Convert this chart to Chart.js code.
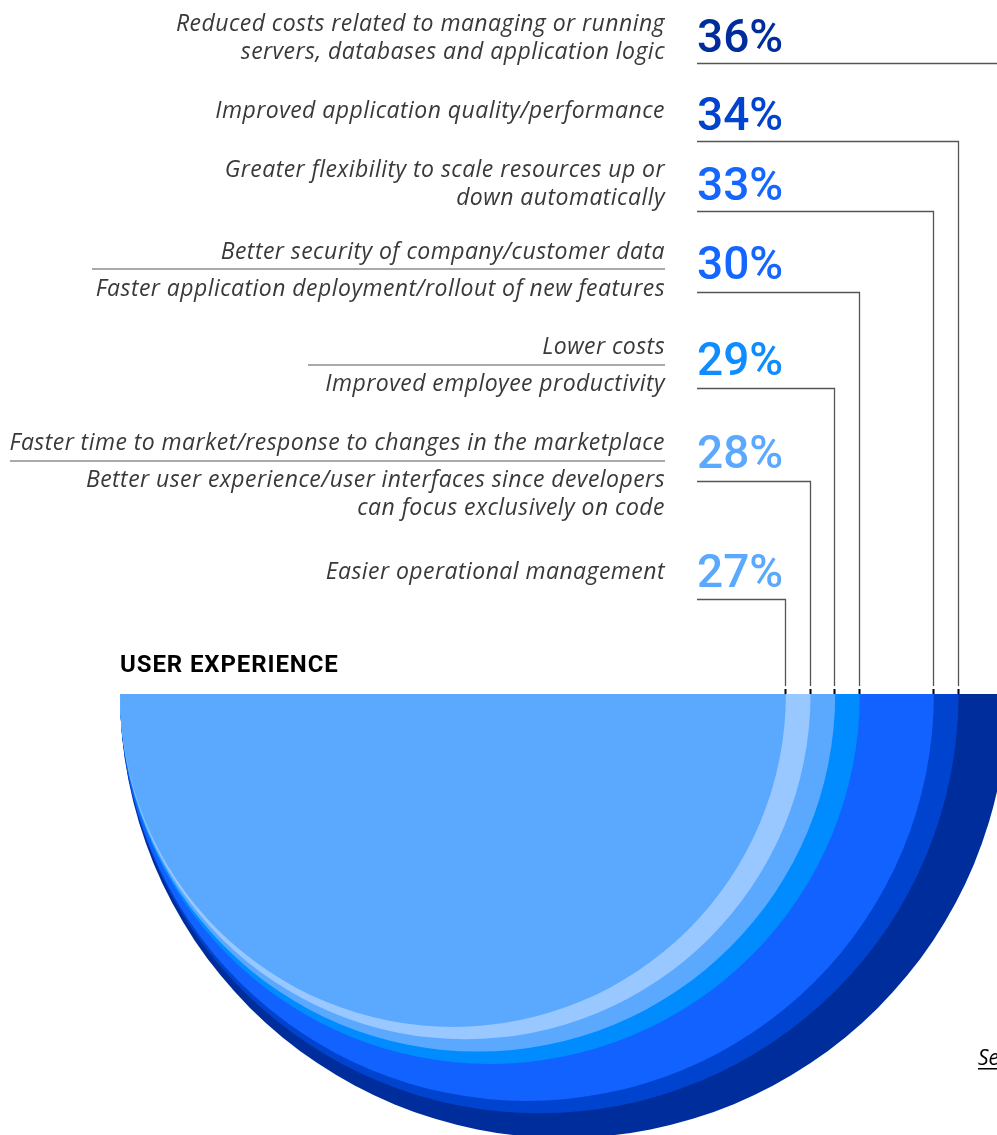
<!DOCTYPE html>
<html>
<head>
<meta charset="utf-8">
<script src="https://cdn.jsdelivr.net/npm/chart.js@4.4.1/dist/chart.umd.min.js"></script>
<style>
  html, body { margin: 0; padding: 0; background: #fff; }
  #wrap { position: relative; width: 997px; height: 1135px; overflow: hidden; }
</style>
</head>
<body>
<div id="wrap"><canvas id="chart" width="997" height="1135"></canvas></div>
<script>
// --- Data ---
const categories = [
    'Reduced costs related to managing or running\nservers, databases and application logic',
    'Improved application quality/performance',
    'Greater flexibility to scale resources up or\ndown automatically',
    'Better security of company/customer data',
    'Faster application deployment/rollout of new features',
    'Lower costs',
    'Improved employee productivity',
    'Faster time to market/response to changes in the marketplace',
    'Better user experience/user interfaces since developers\ncan focus exclusively on code',
    'Easier operational management'
];
const categoryValues = [36, 34, 33, 30, 30, 29, 29, 28, 28, 27];

// one semicircle per distinct share, largest drawn first
const circleValues = [36, 34, 33, 30, 29, 28, 27];
const circleColors = ['#002d9c', '#0043ce', '#1162ff', '#008bff', '#5aa9ff', '#99c7ff', '#5aa9ff'];
const pctColors = ['#002d9c', '#0043ce', '#1466ff', '#1466ff', '#0f8cff', '#5aa9ff', '#5aa9ff'];

const sectionTitle = 'USER EXPERIENCE';
const footLink = 'See more';

// --- Layout (pixels) ---
const textRight = 665;
const pctLeft = 697;
const lineHeight = 28;
const catBaselines = [31, 118, 177, 259, 296, 354, 391, 450, 487, 579];
const pctBaselines = [52, 130, 200, 279, 375, 468, 587];
const connectorY = [63, 141, 211, 292, 388, 481, 599];
// separators between two answers sharing a value: [y, left x]
const separators = [[269, 92], [365, 308], [461, 10]];

const labelFont = 'italic 23px "Open Sans"';
const pctFont = '500 46px Roboto';
const titleFont = 'bold 24px Roboto';

// --- Labels, separators and leader lines ---
const overlayPlugin = {
    id: 'overlay',
    afterDatasetsDraw(chart) {
        const ctx = chart.ctx;
        const xs = chart.scales.x;
        const top = chart.chartArea.top;
        ctx.save();

        // answer texts
        ctx.font = labelFont;
        ctx.letterSpacing = '0.45px';
        ctx.fillStyle = '#393939';
        ctx.textAlign = 'right';
        ctx.textBaseline = 'alphabetic';
        categories.forEach((cat, i) => {
            cat.split('\n').forEach((line, j) => {
                ctx.fillText(line, textRight, catBaselines[i] + j * lineHeight);
            });
        });
        ctx.letterSpacing = '0px';

        // thin rules between answers with equal share
        ctx.strokeStyle = '#8d8d8d';
        ctx.lineWidth = 1.5;
        separators.forEach(([y, x0]) => {
            ctx.beginPath();
            ctx.moveTo(x0, y);
            ctx.lineTo(textRight, y);
            ctx.stroke();
        });

        // percentages
        ctx.font = pctFont;
        ctx.textAlign = 'left';
        circleValues.forEach((v, i) => {
            ctx.fillStyle = pctColors[i];
            ctx.fillText(v + '%', pctLeft, pctBaselines[i]);
        });

        // leader lines to the right edge of each semicircle
        circleValues.forEach((v, i) => {
            const edge = Math.round(xs.getPixelForValue(v)) - 0.5;
            const y = connectorY[i] + 0.5;
            ctx.strokeStyle = '#555';
            ctx.lineWidth = 1.3;
            ctx.beginPath();
            ctx.moveTo(pctLeft, y);
            ctx.lineTo(edge, y);
            ctx.lineTo(edge, top - 8);
            ctx.stroke();
            ctx.fillStyle = '#000';
            ctx.fillRect(edge - 1, top - 5, 2, 5);
        });

        // section title
        ctx.font = titleFont;
        ctx.letterSpacing = '0.9px';
        ctx.fillStyle = '#000';
        ctx.fillText(sectionTitle, chart.chartArea.left, 672);
        ctx.letterSpacing = '0px';

        // cut-off link at the bottom right
        ctx.font = 'italic 21px "Open Sans"';
        ctx.fillStyle = '#000';
        ctx.fillText(footLink, 978, 1065);
        const w = ctx.measureText(footLink).width;
        ctx.fillRect(978, 1068, w, 1.5);

        ctx.restore();
    }
};

// --- Chart ---
function initChart() {
    const canvas = document.getElementById('chart');
    new Chart(canvas, {
        type: 'scatter',
        data: {
            datasets: [{
                // centre sits half the diameter in, so every circle touches the left edge
                data: circleValues.map(v => ({ x: v / 2, y: 0 })),
                pointBackgroundColor: circleColors,
                pointBorderWidth: 0,
                pointHoverBorderWidth: 0,
                clip: 0,
                pointRadius: (c) => {
                    const xs = c.chart.scales.x;
                    return xs.getPixelForValue(circleValues[c.dataIndex] / 2) - xs.getPixelForValue(0);
                },
                pointHoverRadius: (c) => {
                    const xs = c.chart.scales.x;
                    return xs.getPixelForValue(circleValues[c.dataIndex] / 2) - xs.getPixelForValue(0);
                }
            }]
        },
        options: {
            responsive: false,
            animation: false,
            events: [],
            layout: { padding: { left: 120, top: 694, right: 0, bottom: 0 } },
            scales: {
                x: { type: 'linear', display: false, min: 0, max: 35.56 },
                y: { type: 'linear', display: false, min: -1, max: 0 }
            },
            plugins: {
                legend: { display: false },
                tooltip: { enabled: false }
            }
        },
        plugins: [overlayPlugin]
    });
}

document.fonts.load(labelFont).then(() => document.fonts.load(pctFont))
    .then(() => document.fonts.load(titleFont))
    .finally(initChart);
</script>
</body>
</html>
